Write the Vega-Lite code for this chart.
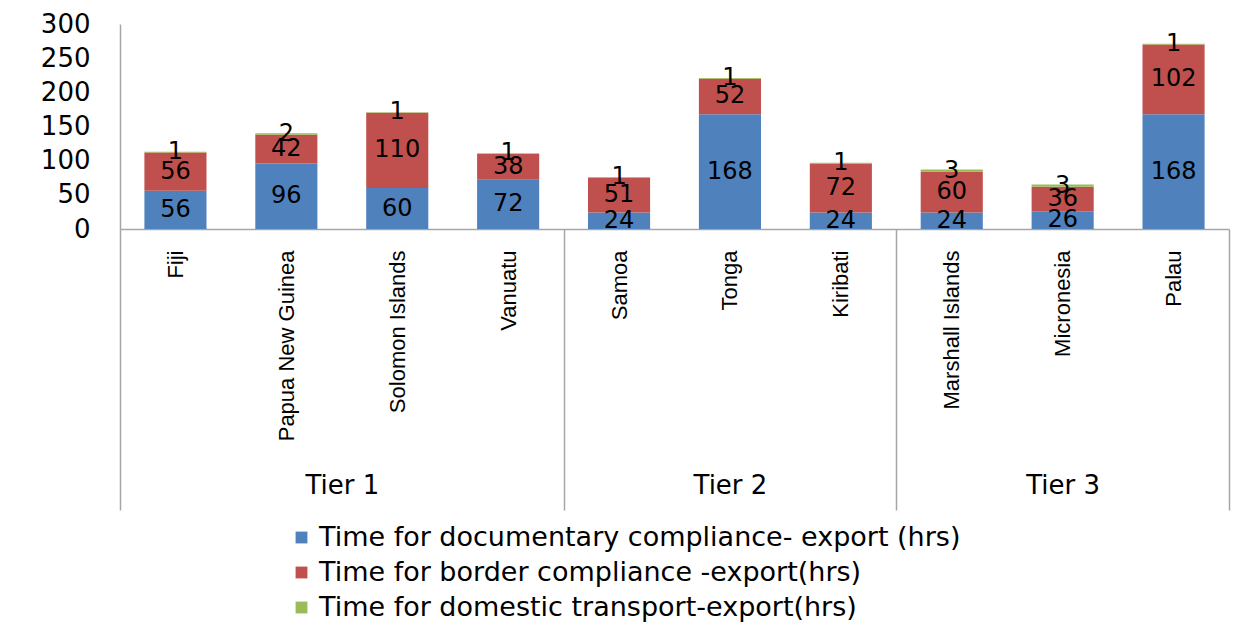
{
  "$schema": "https://vega.github.io/schema/vega-lite/v6.json",
  "width": 1109,
  "height": 205,
  "autosize": {"type": "none"},
  "padding": {"left": 120, "top": 24, "right": 25, "bottom": 404},
  "background": "white",
  "config": {
    "view": {"stroke": null},
    "font": "DejaVu Sans",
    "axis": {"grid": false, "domainColor": "#a6a6a6", "tickColor": "#a6a6a6", "labelColor": "black", "domainWidth": 1.5, "tickWidth": 1.5}
  },
  "data": {
    "values": [
      {"country": "Fiji", "measure": "Time for documentary compliance- export (hrs)", "k": 1, "value": 56},
      {"country": "Fiji", "measure": "Time for border compliance -export(hrs)", "k": 2, "value": 56},
      {"country": "Fiji", "measure": "Time for domestic transport-export(hrs)", "k": 3, "value": 1},
      {"country": "Papua New Guinea", "measure": "Time for documentary compliance- export (hrs)", "k": 1, "value": 96},
      {"country": "Papua New Guinea", "measure": "Time for border compliance -export(hrs)", "k": 2, "value": 42},
      {"country": "Papua New Guinea", "measure": "Time for domestic transport-export(hrs)", "k": 3, "value": 2},
      {"country": "Solomon Islands", "measure": "Time for documentary compliance- export (hrs)", "k": 1, "value": 60},
      {"country": "Solomon Islands", "measure": "Time for border compliance -export(hrs)", "k": 2, "value": 110},
      {"country": "Solomon Islands", "measure": "Time for domestic transport-export(hrs)", "k": 3, "value": 1},
      {"country": "Vanuatu", "measure": "Time for documentary compliance- export (hrs)", "k": 1, "value": 72},
      {"country": "Vanuatu", "measure": "Time for border compliance -export(hrs)", "k": 2, "value": 38},
      {"country": "Vanuatu", "measure": "Time for domestic transport-export(hrs)", "k": 3, "value": 1},
      {"country": "Samoa", "measure": "Time for documentary compliance- export (hrs)", "k": 1, "value": 24},
      {"country": "Samoa", "measure": "Time for border compliance -export(hrs)", "k": 2, "value": 51},
      {"country": "Samoa", "measure": "Time for domestic transport-export(hrs)", "k": 3, "value": 1},
      {"country": "Tonga", "measure": "Time for documentary compliance- export (hrs)", "k": 1, "value": 168},
      {"country": "Tonga", "measure": "Time for border compliance -export(hrs)", "k": 2, "value": 52},
      {"country": "Tonga", "measure": "Time for domestic transport-export(hrs)", "k": 3, "value": 1},
      {"country": "Kiribati", "measure": "Time for documentary compliance- export (hrs)", "k": 1, "value": 24},
      {"country": "Kiribati", "measure": "Time for border compliance -export(hrs)", "k": 2, "value": 72},
      {"country": "Kiribati", "measure": "Time for domestic transport-export(hrs)", "k": 3, "value": 1},
      {"country": "Marshall Islands", "measure": "Time for documentary compliance- export (hrs)", "k": 1, "value": 24},
      {"country": "Marshall Islands", "measure": "Time for border compliance -export(hrs)", "k": 2, "value": 60},
      {"country": "Marshall Islands", "measure": "Time for domestic transport-export(hrs)", "k": 3, "value": 3},
      {"country": "Micronesia", "measure": "Time for documentary compliance- export (hrs)", "k": 1, "value": 26},
      {"country": "Micronesia", "measure": "Time for border compliance -export(hrs)", "k": 2, "value": 36},
      {"country": "Micronesia", "measure": "Time for domestic transport-export(hrs)", "k": 3, "value": 3},
      {"country": "Palau", "measure": "Time for documentary compliance- export (hrs)", "k": 1, "value": 168},
      {"country": "Palau", "measure": "Time for border compliance -export(hrs)", "k": 2, "value": 102},
      {"country": "Palau", "measure": "Time for domestic transport-export(hrs)", "k": 3, "value": 1}
    ]
  },
  "transform": [
    {"stack": "value", "groupby": ["country"], "sort": [{"field": "k", "order": "ascending"}], "as": ["y0", "y1"]},
    {"calculate": "(datum.y0 + datum.y1) / 2", "as": "ymid"}
  ],
  "layer": [
    {
      "mark": {"type": "bar"},
      "encoding": {
        "x": {
          "field": "country",
          "type": "nominal",
          "sort": ["Fiji", "Papua New Guinea", "Solomon Islands", "Vanuatu", "Samoa", "Tonga", "Kiribati", "Marshall Islands", "Micronesia", "Palau"],
          "scale": {"paddingInner": 0.44, "paddingOuter": 0.22},
          "axis": {
            "orient": "bottom",
            "title": null,
            "labelAngle": -90,
            "labelFont": "Liberation Sans",
            "labelFontSize": 22,
            "labelLimit": 400,
            "ticks": true,
            "tickOffset": -55.45,
            "labelOffset": 55.45,
            "tickSize": {"condition": {"test": "datum.value == 'Fiji' || datum.value == 'Samoa' || datum.value == 'Marshall Islands'", "value": 281}, "value": 0},
            "labelPadding": {"condition": {"test": "datum.value == 'Fiji' || datum.value == 'Samoa' || datum.value == 'Marshall Islands'", "value": -260}, "value": 21}
          }
        },
        "y": {
          "field": "y1",
          "type": "quantitative",
          "scale": {"domain": [0, 300], "nice": false},
          "axis": {"title": null, "values": [0, 50, 100, 150, 200, 250, 300], "labelOverlap": false, "ticks": false, "tickSize": 0, "labelPadding": 30, "labelFontSize": 26}
        },
        "y2": {"field": "y0"},
        "color": {
          "field": "measure",
          "type": "nominal",
          "scale": {
            "domain": ["Time for documentary compliance- export (hrs)", "Time for border compliance -export(hrs)", "Time for domestic transport-export(hrs)"],
            "range": ["#4F81BD", "#C0504D", "#9BBB59"]
          },
          "legend": {
            "title": null,
            "orient": "none",
            "legendX": 168,
            "legendY": 500,
            "direction": "vertical",
            "symbolType": "square",
            "symbolSize": 140,
            "symbolStrokeWidth": 0,
            "labelFontSize": 27,
            "labelLimit": 1000,
            "labelOffset": 4,
            "rowPadding": 7,
            "labelColor": "black"
          }
        }
      }
    },
    {
      "mark": {"type": "text", "fontSize": 24, "color": "black", "baseline": "middle", "align": "center"},
      "encoding": {
        "x": {
          "field": "country",
          "type": "nominal",
          "sort": ["Fiji", "Papua New Guinea", "Solomon Islands", "Vanuatu", "Samoa", "Tonga", "Kiribati", "Marshall Islands", "Micronesia", "Palau"],
          "axis": {
            "orient": "bottom",
            "title": null,
            "values": ["Papua New Guinea", "Tonga", "Palau"],
            "labelExpr": "datum.value == 'Papua New Guinea' ? 'Tier 1' : datum.value == 'Tonga' ? 'Tier 2' : 'Tier 3'",
            "labelAngle": 0,
            "labelAlign": "center",
            "labelBaseline": "alphabetic",
            "labelFontSize": 26,
            "labelOverlap": false,
            "domain": false,
            "ticks": true,
            "tickOffset": 55.45,
            "tickSize": {"condition": {"test": "datum.value == 'Palau'", "value": 281}, "value": 0},
            "labelOffset": {"expr": "datum.value == 'Papua New Guinea' ? 0 : (datum.value == 'Tonga' ? -55.45 : -166.35)"},
            "labelPadding": {"condition": {"test": "datum.value == 'Palau'", "value": -17}, "value": 264}
          }
        },
        "y": {
          "field": "ymid",
          "type": "quantitative",
          "axis": {"title": null, "values": [0, 50, 100, 150, 200, 250, 300], "labelOverlap": false, "ticks": false, "tickSize": 0, "labelPadding": 30, "labelFontSize": 26}
        },
        "text": {"field": "value", "type": "quantitative"}
      }
    }
  ],
  "resolve": {"axis": {"x": "independent"}}
}
